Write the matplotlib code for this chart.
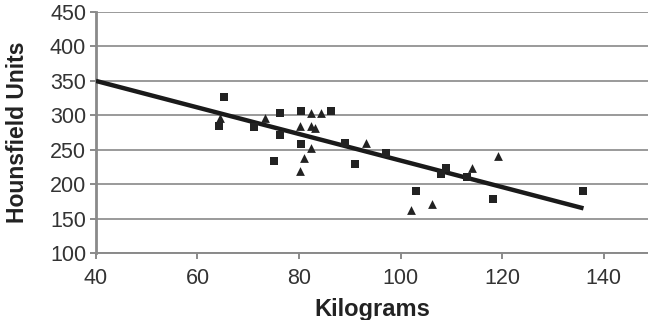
import matplotlib
matplotlib.use("Agg")
import matplotlib.pyplot as plt

plt.rcParams['font.family'] = ['Liberation Sans', 'DejaVu Sans']

# Data
sq_x = [65.3, 64.2, 71.2, 76.2, 76.2, 75.1, 80.3, 80.3, 86.3, 89.0, 91.0, 97.2,
        103.1, 109.0, 108.0, 113.0, 118.1, 136.0]
sq_y = [326, 285, 283, 303, 272, 234, 307, 258, 307, 260, 229, 246,
        190, 223, 215, 211, 178, 190]

tri_x = [64.4, 73.3, 82.3, 84.3, 80.2, 82.3, 83.1, 82.3, 81.0, 80.2, 93.1,
         102.1, 106.1, 114.1, 119.1]
tri_y = [296, 296, 304, 303, 284, 284, 281, 252, 238, 219, 260,
         162, 171, 223, 241]

fit_x = [40, 136]
fit_y = [350, 165]

x_ticks = [40, 60, 80, 100, 120, 140]
y_ticks = [100, 150, 200, 250, 300, 350, 400, 450]

fig = plt.figure(figsize=(6.48, 3.2), dpi=100)
ax = fig.add_axes([0.148, 0.209, 0.852, 0.7535])

ax.set_xlim(40, 148.7)
ax.set_ylim(100, 450)
ax.set_xticks(x_ticks)
ax.set_yticks(y_ticks)

ax.grid(axis='y', color='#9a9a9a', linewidth=1.4, linestyle='-')
ax.grid(axis='x', visible=False)
ax.set_axisbelow(True)

ax.plot(fit_x, fit_y, color='#1a1a1a', linewidth=3.2, solid_capstyle='butt', zorder=3)
ax.scatter(sq_x, sq_y, marker='s', s=38, color='#222222', zorder=4, linewidths=0)
ax.scatter(tri_x, tri_y, marker='^', s=40, color='#222222', zorder=4, linewidths=0)

for side in ['top', 'right']:
    ax.spines[side].set_visible(False)
ax.spines['left'].set_color('#8a8a8a')
ax.spines['left'].set_linewidth(2.0)
ax.spines['bottom'].set_color('#8a8a8a')
ax.spines['bottom'].set_linewidth(1.4)

ax.tick_params(axis='both', direction='out', length=4, width=1.2, color='#777777',
               labelsize=15.5, labelcolor='#333333')
ax.tick_params(axis='x', pad=7)
ax.tick_params(axis='y', pad=3)

ax.set_xlabel('Kilograms', fontsize=17, fontweight='bold', color='#222222', labelpad=6)
ax.set_ylabel('Hounsfield Units', fontsize=16.5, fontweight='bold', color='#222222')
ax.yaxis.set_label_coords(-0.122, 0.5)

fig.savefig('out.png', dpi=100)
